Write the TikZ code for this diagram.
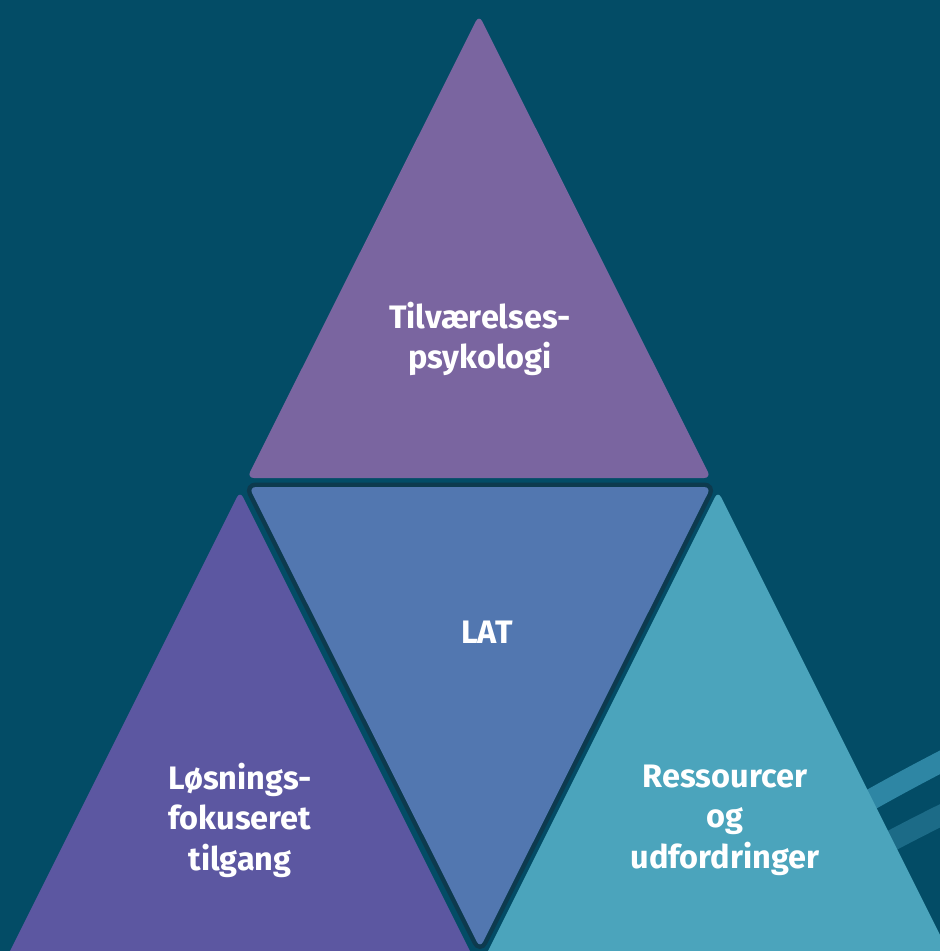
\documentclass[tikz,border=0pt]{standalone}
\usepackage{fontspec}
\setmainfont{Fira Sans}
\usetikzlibrary{positioning}

\definecolor{bgteal}{HTML}{034C66}
\definecolor{gapdark}{HTML}{0D3A4E}
\definecolor{topviolet}{HTML}{7A65A0}
\definecolor{midblue}{HTML}{5277B0}
\definecolor{leftviolet}{HTML}{5C57A1}
\definecolor{rightteal}{HTML}{4BA4BC}
\definecolor{bandlight}{HTML}{2E86A4}
\definecolor{banddark}{HTML}{1C6B87}

\begin{document}
\begin{tikzpicture}[x=1pt, y=-1pt,
  label/.style={text=white, font=\bfseries\fontsize{32.5}{40.5}\selectfont, align=center},
  band/.style={line width=21pt}]
\useasboundingbox (0,0) rectangle (940,951);
\clip (0,0) rectangle (940,951);
\fill[bgteal] (0,0) rectangle (940,951);

% bands at the right edge
\draw[band, bandlight] (810,835) .. controls (860,805) and (905,780) .. (960,752);
\draw[band, banddark] (830,875) .. controls (880,846) and (915,828) .. (960,806);

% triangles
\fill[topviolet, rounded corners=7] (479,15) -- (711,478) -- (247,478) -- cycle;
\fill[leftviolet, rounded corners=7] (240,491) -- (495,1001) -- (-15,1001) -- cycle;
\fill[rightteal, rounded corners=7] (718,491) -- (973,1001) -- (463,1001) -- cycle;
\filldraw[midblue, draw=gapdark, line width=9pt, rounded corners=7] (249,487) -- (711,487) -- (480,948) -- cycle;
\fill[midblue, rounded corners=7] (249,487) -- (711,487) -- (480,948) -- cycle;

% texts
\node[label] (tilv) at (480,339) {Tilværelses-\\psykologi};
\node[label] (lat) at (487,632) {LAT};
\node[label] (losn) at (240,820) {Løsnings-\\fokuseret\\tilgang};
\node[label] (ress) at (725,820) {Ressourcer\\og\\udfordringer};
\end{tikzpicture}
\end{document}
